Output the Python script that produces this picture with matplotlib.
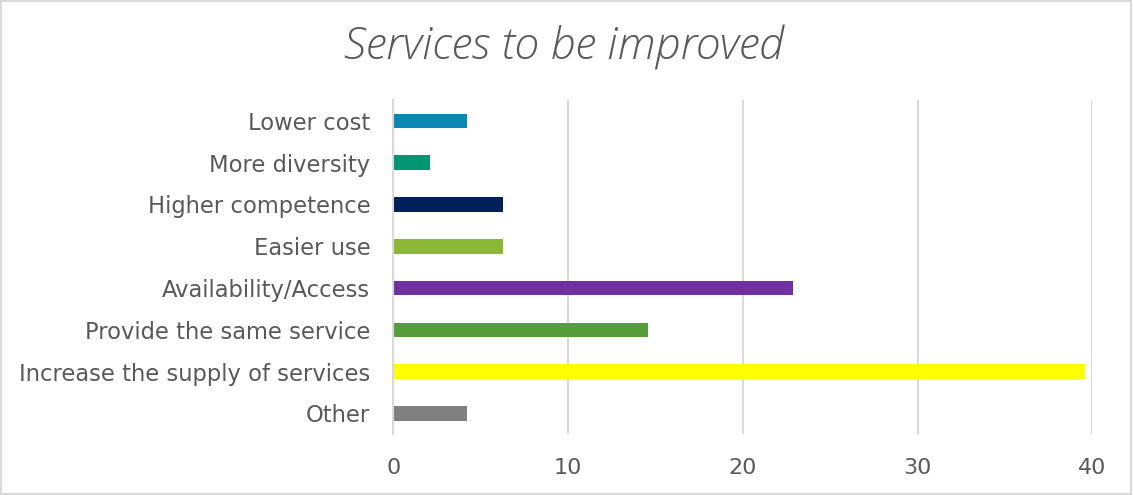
import matplotlib
matplotlib.use("Agg")
import matplotlib.pyplot as plt
from matplotlib.patches import Rectangle

categories = ["Lower cost", "More diversity", "Higher competence", "Easier use",
              "Availability/Access", "Provide the same service",
              "Increase the supply of services", "Other"]
values = [4.2, 2.1, 6.3, 6.3, 22.9, 14.6, 39.6, 4.2]
colors = ["#0A87B2", "#009673", "#00205C", "#8DB833", "#7030A0",
          "#559E3A", "#FFFF00", "#808080"]
x_ticks = [0, 10, 20, 30, 40]

text_color = "#595959"
grid_color = "#D9D9D9"

plt.rcParams["font.family"] = ["DejaVu Sans"]

fig = plt.figure(figsize=(11.34, 4.95), dpi=100)
ax = fig.add_axes([0.3468, 0.1226, 0.6164, 0.6754])

ypos = list(range(len(categories)))
ax.barh(ypos, values, height=0.35, color=colors, zorder=3)

ax.set_ylim(len(categories) - 0.5, -0.5)
ax.set_xlim(0, 40)
ax.set_xticks(x_ticks)
ax.set_xticklabels([str(t) for t in x_ticks])
ax.set_yticks(ypos)
ax.set_yticklabels(categories)

ax.grid(axis="x", color=grid_color, linewidth=1.5, zorder=0)
for s in ["top", "right", "bottom"]:
    ax.spines[s].set_visible(False)
ax.spines["left"].set_color(grid_color)
ax.spines["left"].set_linewidth(1.5)
ax.spines["left"].set_zorder(4)

ax.tick_params(axis="both", length=0, colors=text_color)
ax.tick_params(axis="y", pad=16.5, labelsize=16.3)
ax.tick_params(axis="x", pad=17, labelsize=16)

fig.text(0.497, 0.905, "Services to be improved", ha="center", va="center",
         fontsize=32, style="italic", weight="light", color=text_color,
         family=["Open Sans", "DejaVu Sans"])

fig.patches.append(Rectangle((0.001, 0.003), 0.996, 0.994, transform=fig.transFigure,
                             fill=False, edgecolor=grid_color, linewidth=1.5))

fig.savefig("out.png", dpi=100)
